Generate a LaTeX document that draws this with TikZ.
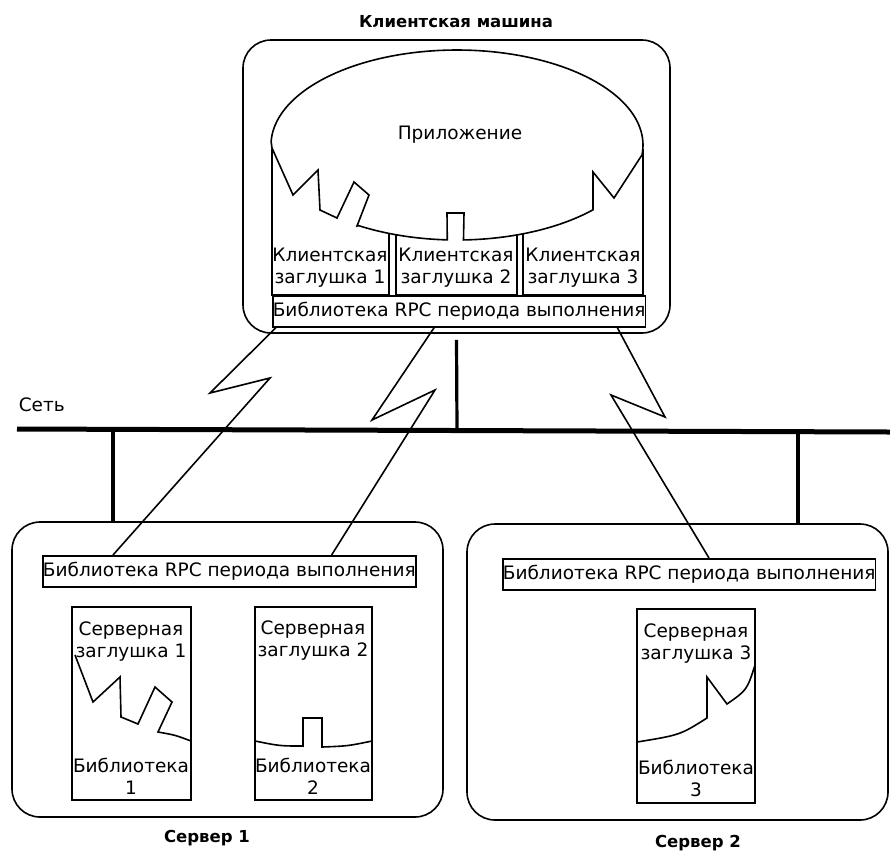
\documentclass[tikz,border=0pt]{standalone}
\usepackage{fontspec}
\setmainfont{DejaVu Sans}
\begin{document}
\begin{tikzpicture}[x=1pt,y=-1pt,line width=1.6pt,
	txt/.style={font=\fontsize{18.5}{22}\selectfont,align=center,inner sep=0pt},
	title/.style={font=\fontsize{16.5}{18}\selectfont\bfseries,inner sep=0pt},
	libbar/.style={draw,font=\fontsize{18.5}{22}\selectfont,inner sep=0pt,anchor=north west,minimum height=31},
	machine/.style={draw,rounded corners=28pt,inner sep=0pt},
	net/.style={line width=5pt},
	drop/.style={line width=3.2pt},
	link/.style={line width=1.6pt,line join=miter}]
	\useasboundingbox (0,0) rectangle (890,852);
	
	% client machine
	\node[title] (ctitle) at (456,22) {Клиентская машина};
	\node[machine,minimum width=427,minimum height=293] (client) at (456.5,186.5) {};
	
	\draw (272,150) rectangle (389,295);
	\draw (396,150) rectangle (517,295);
	\draw (523,150) rectangle (643,295);
	\node[txt] (cs1) at (330,268) {Клиентская\\заглушка 1};
	\node[txt] (cs2) at (456,268) {Клиентская\\заглушка 2};
	\node[txt] (cs3) at (583,268) {Клиентская\\заглушка 3};
	
	% application with the notches of the stubs
	\draw[fill=white] (272,148) -- (293,195) -- (318,170) -- (320,210) -- (337,218) -- (354,182) -- (369,195) -- (357,226)
	-- plot[domain=122:93,samples=20] ({457+186*cos(\x)},{145+95*sin(\x)})
	-- (447,213) -- (464,213)
	-- plot[domain=88:43,samples=30] ({457+186*cos(\x)},{145+95*sin(\x)})
	-- (593,172) -- (614,198)
	-- plot[domain=6:-178,samples=90] ({457+186*cos(\x)},{145+95*sin(\x)})
	-- cycle;
	\node[txt] (app) at (460,135) {Приложение};
	
	\node[libbar,minimum width=371] (clib) at (272,295) {Библиотека RPC периода выполнения};
	
	% network
	\node[txt,anchor=west] (netlabel) at (18,405) {Сеть};
	\coordinate (netL) at (17,429);
	\coordinate (netR) at (890,432);
	\draw[net] (netL) -- (netR);
	\coordinate (n0) at (457,430);
	\coordinate (n1) at (113,430);
	\coordinate (n2) at (798,432);
	
	% servers
	\node[machine,minimum width=431,minimum height=295] (srv1) at (227.5,669.5) {};
	\node[machine,minimum width=421,minimum height=296] (srv2) at (677.5,672) {};
	\node[title] (s1title) at (207,838) {Сервер 1};
	\node[title] (s2title) at (698,843) {Сервер 2};
	
	\node[libbar,minimum width=373] (slib1) at (42,555) {Библиотека RPC периода выполнения};
	\node[libbar,minimum width=371] (slib2) at (502,558) {Библиотека RPC периода выполнения};
	
	\draw (72,607) rectangle (191,800);
	\draw (255,607) rectangle (372,800);
	\draw (637,609) rectangle (755,803);
	
	\draw (75,655) -- (93,702) -- (120,677) -- (121,717) -- (138,724) -- (155,687) -- (172,702) -- (158,732)
	.. controls (175,735) .. (191,741);
	\draw (255,741) .. controls (280,746) .. (303,746) -- (303,718) -- (322,718) -- (322,747)
	.. controls (348,746) .. (372,741);
	\draw (637,742) .. controls (680,735) .. (707,718) -- (707,677) -- (727,704)
	.. controls (747,690) .. (755,665);
	
	\node[txt] (ss1) at (131,642) {Серверная\\заглушка 1};
	\node[txt] (ss2) at (313,641) {Серверная\\заглушка 2};
	\node[txt] (ss3) at (696,644) {Серверная\\заглушка 3};
	\node[txt] (sl1) at (131,776) {Библиотека\\1};
	\node[txt] (sl2) at (313,776) {Библиотека\\2};
	\node[txt] (sl3) at (696,778) {Библиотека\\3};
	
	% drops to the network
	\draw[drop] ([yshift=-6pt]client.south) -- (n0);
	\draw[drop] (n1) -- (n1 |- srv1.north);
	\draw[drop] (n2) -- (n2 |- srv2.north);
	
	% calls over the network
	\coordinate (k1a) at (210,393);
	\coordinate (k1b) at (270,378);
	\coordinate (k2a) at (372,420);
	\coordinate (k2b) at (435,390);
	\coordinate (k3a) at (665,417);
	\coordinate (k3b) at (611,395);
	
	\draw[link] ([xshift=4pt]clib.south west) -- (k1a) -- (k1b)
	-- ([xshift=71pt]slib1.north west);
	\draw[link] ([xshift=-25pt]clib.south) -- (k2a) -- (k2b)
	-- ([xshift=-85pt]slib1.north east);
	\draw[link] ([xshift=-29pt]clib.south east) -- (k3a) -- (k3b)
	-- ([xshift=207pt]slib2.north west);
	
\end{tikzpicture}
\end{document}
